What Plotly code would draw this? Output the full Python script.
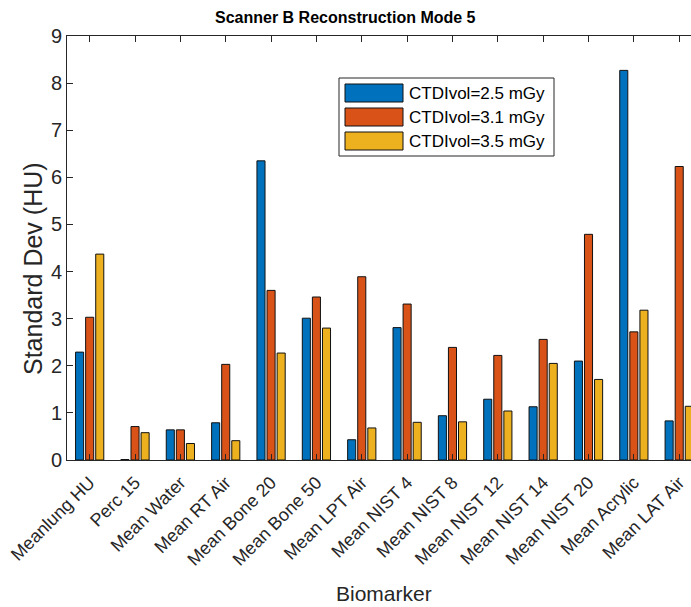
import plotly.graph_objects as go

# Biomarker categories and per-dose standard deviations (HU)
biomarkers = ["Meanlung HU", "Perc 15", "Mean Water", "Mean RT Air", "Mean Bone 20",
              "Mean Bone 50", "Mean LPT Air", "Mean NIST 4", "Mean NIST 8",
              "Mean NIST 12", "Mean NIST 14", "Mean NIST 20", "Mean Acrylic",
              "Mean LAT Air"]
sd_2p5 = [2.29, 0.01, 0.64, 0.79, 6.35, 3.01, 0.43, 2.81, 0.94, 1.29, 1.13, 2.10, 8.27, 0.83]
sd_3p1 = [3.03, 0.71, 0.64, 2.03, 3.60, 3.46, 3.89, 3.31, 2.39, 2.22, 2.56, 4.79, 2.72, 6.23]
sd_3p5 = [4.37, 0.58, 0.35, 0.41, 2.27, 2.80, 0.68, 0.80, 0.81, 1.04, 2.05, 1.71, 3.18, 1.14]
series_names = ["CTDIvol=2.5 mGy", "CTDIvol=3.1 mGy", "CTDIvol=3.5 mGy"]
y_ticks = [0, 1, 2, 3, 4, 5, 6, 7, 8, 9]

colors = ["#0072BD", "#D95319", "#EDB120"]
ink = "#262626"
font_family = "Liberation Sans, Arial, Helvetica, sans-serif"

W, H = 691, 607
ML, MT, MB = 67, 36, 147
PW, PH = W - ML, H - MT - MB

def px(x):
    return (x - ML) / PW

def py(y):
    return (MT + PH - y) / PH

positions = list(range(1, len(biomarkers) + 1))

fig = go.Figure()
for name, vals, col in zip(series_names, [sd_2p5, sd_3p1, sd_3p5], colors):
    fig.add_trace(go.Bar(
        x=positions, y=vals, name=name,
        marker=dict(color=col, line=dict(color="#111111", width=1)),
        showlegend=False,
    ))

# invisible trace so the mirrored top axis is drawn
fig.add_trace(go.Scatter(x=[1], y=[0], xaxis="x2", mode="markers",
                         marker=dict(opacity=0), showlegend=False, hoverinfo="skip"))

x_range = [0.5, 14.26]
fig.update_layout(
    width=W, height=H,
    margin=dict(l=ML, r=0, t=MT, b=MB, pad=0),
    paper_bgcolor="white", plot_bgcolor="white",
    barmode="group", bargap=0.333, bargroupgap=0.2,
    font=dict(family=font_family, color=ink),
    xaxis=dict(
        range=x_range, tickmode="array", tickvals=positions, ticktext=biomarkers,
        tickangle=-45, ticks="inside", ticklen=6, tickcolor=ink,
        ticklabelstandoff=4,
        showline=True, linecolor=ink, linewidth=1, showgrid=False, zeroline=False,
        tickfont=dict(size=18, color=ink),
    ),
    xaxis2=dict(
        range=x_range, overlaying="x", side="top", tickmode="array", tickvals=positions,
        ticks="inside", ticklen=6, tickcolor=ink, showticklabels=False,
        showline=True, linecolor=ink, linewidth=1, showgrid=False, zeroline=False,
    ),
    yaxis=dict(
        range=[0, 9], tickmode="array", tickvals=y_ticks, ticks="inside", ticklen=6,
        tickcolor=ink, showline=True, linecolor=ink, linewidth=1, showgrid=False,
        zeroline=False, tickfont=dict(size=20, color=ink),
    ),
)

annotations = [
    dict(text="<b>Scanner B Reconstruction Mode 5</b>", x=px(345), y=py(17),
         xref="paper", yref="paper", showarrow=False, xanchor="center", yanchor="middle",
         font=dict(size=16, color="black")),
    dict(text="Standard Dev (HU)", x=px(33), y=py(269), textangle=-90,
         xref="paper", yref="paper", showarrow=False, xanchor="center", yanchor="middle",
         font=dict(size=25, color=ink)),
    dict(text="Biomarker", x=px(384), y=py(593),
         xref="paper", yref="paper", showarrow=False, xanchor="center", yanchor="middle",
         font=dict(size=21, color=ink)),
]

# legend box drawn with shapes
shapes = [dict(type="rect", xref="paper", yref="paper",
               x0=px(339), x1=px(554), y0=py(156), y1=py(78),
               line=dict(color=ink, width=1), fillcolor="white", layer="above")]
row_centers = [93, 117, 141]
for name, col, yc in zip(series_names, colors, row_centers):
    shapes.append(dict(type="rect", xref="paper", yref="paper",
                       x0=px(345), x1=px(403), y0=py(yc + 9), y1=py(yc - 9),
                       line=dict(color="#111111", width=1), fillcolor=col, layer="above"))
    annotations.append(dict(text=name, x=px(407), y=py(yc), xref="paper", yref="paper",
                            showarrow=False, xanchor="left", yanchor="middle",
                            font=dict(size=17, color="black")))

fig.update_layout(shapes=shapes, annotations=annotations)
fig.write_html("out.html")
